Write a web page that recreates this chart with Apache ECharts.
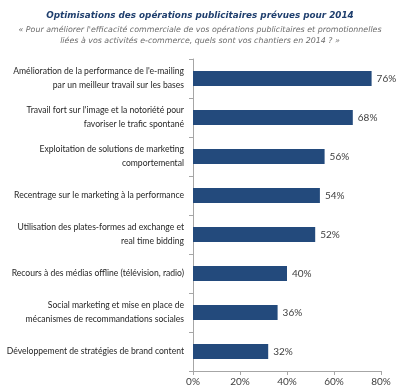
<!DOCTYPE html>
<html><head><meta charset="utf-8">
<script src="https://cdn.jsdelivr.net/npm/echarts@6/dist/echarts.min.js"></script>
<style>html,body{margin:0;padding:0;background:#fff}#c{width:400px;height:390px}</style>
</head><body><div id="c"></div>
<script>
const categories = [
  "Amélioration de la performance de l'e-mailing\npar un meilleur travail sur les bases",
  "Travail fort sur l'image et la notoriété pour\nfavoriser le trafic spontané",
  "Exploitation de solutions de marketing\ncomportemental",
  "Recentrage sur le marketing à la performance",
  "Utilisation des plates-formes ad exchange et\nreal time bidding",
  "Recours à des médias offline (télévision, radio)",
  "Social marketing et mise en place de\nmécanismes de recommandations sociales",
  "Développement de stratégies de brand content"
];
const values = [76, 68, 56, 54, 52, 40, 36, 32];
const xTicks = [0, 20, 40, 60, 80];
const titleText = "Optimisations des opérations publicitaires prévues pour 2014";
const subtitleText = "« Pour améliorer l'efficacité commerciale de vos opérations publicitaires et promotionnelles\nliées à vos activités e-commerce, quels sont vos chantiers en 2014 ? »";

const chart = echarts.init(document.getElementById('c'), null, {renderer: 'canvas'});
chart.setOption({
  animation: false,
  backgroundColor: '#fff',
  title: {
    text: titleText,
    subtext: subtitleText,
    left: 'center',
    top: 6,
    itemGap: 5,
    textStyle: {fontFamily: 'DejaVu Sans', fontSize: 8.8, fontWeight: 'bold', fontStyle: 'italic', color: '#1f3f6e'},
    subtextStyle: {fontFamily: 'DejaVu Sans', fontSize: 7.9, fontStyle: 'italic', color: '#6b6b6b', lineHeight: 10.5, align: 'center'}
  },
  grid: {left: 193, top: 59, width: 188, height: 312, containLabel: false, outerBoundsMode: 'none'},
  xAxis: {
    type: 'value', min: 0, max: 80, interval: 20,
    axisLine: {show: true, lineStyle: {color: '#a6a6a6'}},
    axisTick: {show: true, length: 4, lineStyle: {color: '#a6a6a6'}},
    splitLine: {show: false},
    axisLabel: {fontFamily: 'Lato', fontSize: 10, color: '#404040', margin: 6,
      formatter: v => xTicks.includes(v) ? v + '%' : ''}
  },
  yAxis: {
    type: 'category', data: categories, inverse: true,
    axisLine: {show: true, lineStyle: {color: '#a6a6a6'}},
    axisTick: {show: true, length: 4, lineStyle: {color: '#a6a6a6'}},
    axisLabel: {fontFamily: 'Lato', fontSize: 8.6, color: '#262626', margin: 9, lineHeight: 14, align: 'right'}
  },
  series: [{
    type: 'bar', data: values, barWidth: 15,
    itemStyle: {color: '#234a7c'},
    label: {show: true, position: 'right', distance: 5, formatter: '{c}%',
      fontFamily: 'Lato', fontSize: 10, color: '#404040'}
  }]
});
</script></body></html>
